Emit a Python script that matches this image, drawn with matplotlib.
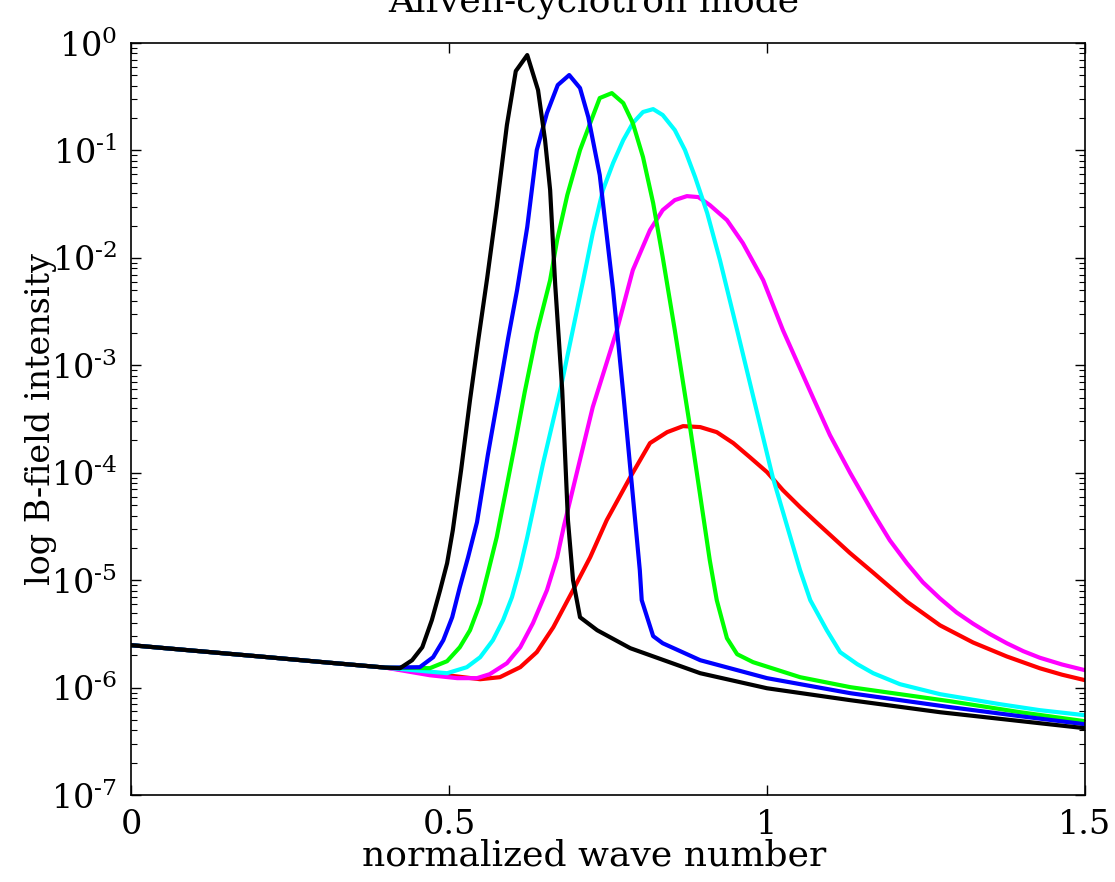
import numpy as np
import matplotlib.pyplot as plt

# shared low-k part of every curve (log10 of intensity)
BASE_K = [0.0, 0.1, 0.2, 0.3, 0.4]
BASE_LOG = [-5.605, -5.657, -5.709, -5.762, -5.814]

RED_K = [0.497, 0.549, 0.580, 0.612, 0.638, 0.664, 0.695, 0.722, 0.748, 0.785,
         0.816, 0.843, 0.868, 0.895, 0.921, 0.947, 0.973, 1.000, 1.025, 1.052,
         1.079, 1.130, 1.167, 1.220, 1.272, 1.324, 1.377, 1.429, 1.464, 1.500]
RED_LOG = [-5.885, -5.922, -5.903, -5.810, -5.670, -5.438, -5.093, -4.786, -4.441, -4.041,
           -3.724, -3.622, -3.566, -3.575, -3.622, -3.724, -3.855, -3.994, -4.162, -4.320,
           -4.469, -4.745, -4.930, -5.200, -5.420, -5.580, -5.710, -5.820, -5.880, -5.931]

MAGENTA_K = [0.470, 0.513, 0.544, 0.564, 0.591, 0.612, 0.632, 0.654, 0.670, 0.681,
             0.726, 0.764, 0.789, 0.816, 0.836, 0.855, 0.874, 0.892, 0.910, 0.937,
             0.962, 0.994, 1.025, 1.072, 1.099, 1.131, 1.167, 1.193, 1.220, 1.245,
             1.272, 1.298, 1.324, 1.351, 1.377, 1.403, 1.429, 1.464, 1.500]
MAGENTA_LOG = [-5.885, -5.912, -5.912, -5.875, -5.773, -5.624, -5.400, -5.093, -4.786, -4.488,
               -3.389, -2.672, -2.114, -1.741, -1.555, -1.462, -1.425, -1.434, -1.508, -1.648,
               -1.862, -2.207, -2.672, -3.296, -3.650, -4.004, -4.376, -4.628, -4.842, -5.019,
               -5.170, -5.300, -5.405, -5.503, -5.587, -5.661, -5.722, -5.785, -5.838]

CYAN_K = [0.497, 0.528, 0.549, 0.569, 0.585, 0.599, 0.612, 0.623, 0.648, 0.675,
          0.711, 0.726, 0.742, 0.758, 0.774, 0.789, 0.805, 0.821, 0.836, 0.855,
          0.871, 0.887, 0.906, 0.926, 0.953, 1.009, 1.052, 1.068, 1.094, 1.115,
          1.142, 1.167, 1.209, 1.272, 1.366, 1.429, 1.500]
CYAN_LOG = [-5.866, -5.810, -5.717, -5.559, -5.372, -5.158, -4.879, -4.600, -3.910, -3.231,
            -2.207, -1.769, -1.369, -1.117, -0.903, -0.745, -0.642, -0.615, -0.670, -0.810,
            -0.996, -1.248, -1.583, -2.020, -2.672, -4.041, -4.907, -5.186, -5.466, -5.670,
            -5.782, -5.866, -5.968, -6.061, -6.154, -6.210, -6.257]

GREEN_K = [0.470, 0.497, 0.517, 0.533, 0.549, 0.561, 0.575, 0.588, 0.604, 0.619,
           0.638, 0.659, 0.670, 0.686, 0.706, 0.722, 0.737, 0.756, 0.774, 0.789,
           0.805, 0.821, 0.836, 0.855, 0.879, 0.910, 0.921, 0.937, 0.953, 0.978,
           1.052, 1.131, 1.288, 1.398, 1.500]
GREEN_LOG = [-5.819, -5.754, -5.624, -5.466, -5.214, -4.935, -4.600, -4.209, -3.724, -3.250,
             -2.700, -2.207, -1.834, -1.415, -0.996, -0.745, -0.512, -0.466, -0.559, -0.745,
             -1.061, -1.490, -1.993, -2.672, -3.575, -4.814, -5.186, -5.540, -5.689, -5.763,
             -5.903, -5.996, -6.127, -6.229, -6.313]

BLUE_K = [0.454, 0.475, 0.491, 0.505, 0.517, 0.530, 0.544, 0.561, 0.579, 0.593,
          0.607, 0.623, 0.638, 0.654, 0.671, 0.689, 0.706, 0.719, 0.737, 0.758,
          0.775, 0.800, 0.803, 0.821, 0.836, 0.895, 1.000, 1.131, 1.288, 1.398,
          1.500]
BLUE_LOG = [-5.810, -5.717, -5.559, -5.345, -5.065, -4.786, -4.460, -3.836, -3.231, -2.747,
            -2.300, -1.713, -0.996, -0.652, -0.391, -0.298, -0.419, -0.689, -1.229, -2.300,
            -3.324, -4.907, -5.186, -5.521, -5.587, -5.745, -5.912, -6.052, -6.182, -6.266,
            -6.341]

BLACK_K = [0.423, 0.442, 0.458, 0.473, 0.486, 0.497, 0.506, 0.519, 0.533, 0.546,
           0.560, 0.575, 0.591, 0.605, 0.623, 0.640, 0.651, 0.659, 0.667, 0.678,
           0.687, 0.695, 0.706, 0.733, 0.785, 0.895, 1.000, 1.131, 1.272, 1.500]
BLACK_LOG = [-5.819, -5.745, -5.624, -5.372, -5.093, -4.842, -4.534, -3.976, -3.324, -2.765,
             -2.188, -1.527, -0.764, -0.261, -0.112, -0.438, -0.903, -1.369, -2.253, -3.231,
             -4.441, -5.000, -5.345, -5.466, -5.633, -5.866, -6.006, -6.117, -6.229, -6.378]

CURVES = [
    (RED_K, RED_LOG, '#ff0000'),
    (MAGENTA_K, MAGENTA_LOG, '#ff00ff'),
    (CYAN_K, CYAN_LOG, '#00ffff'),
    (GREEN_K, GREEN_LOG, '#00ff00'),
    (BLUE_K, BLUE_LOG, '#0000ff'),
    (BLACK_K, BLACK_LOG, '#000000'),
]

XTICKS = [0, 0.5, 1, 1.5]
XTICK_LABELS = ['0', '0.5', '1', '1.5']
YTICK_EXP = [0, -1, -2, -3, -4, -5, -6, -7]

plt.rcParams['font.family'] = ['DejaVu Serif']
plt.rcParams['mathtext.fontset'] = 'dejavuserif'
plt.rcParams['axes.unicode_minus'] = False

fig = plt.figure(figsize=(11.15, 8.82), dpi=100)
ax = fig.add_axes([0.1175, 0.0986, 0.8556, 0.8526])

for k, lg, col in CURVES:
    kk = np.array(BASE_K + k)
    yy = 10.0 ** np.array(BASE_LOG + lg)
    ax.plot(kk, yy, color=col, lw=3)

ax.set_yscale('log')
ax.set_xlim(0, 1.5)
ax.set_ylim(1e-7, 1e0)

ax.set_xticks(XTICKS)
ax.set_xticklabels(XTICK_LABELS)
ax.set_yticks([10.0 ** e for e in YTICK_EXP])
ax.set_yticklabels([r'$\mathdefault{10^{\text{%d}}}$' % e for e in YTICK_EXP])

ax.tick_params(which='both', direction='in', top=True, right=True, labelsize=24)
ax.tick_params(which='major', length=7, width=1, pad=10)
ax.tick_params(which='minor', length=4, width=0.8)
ax.tick_params(axis='x', which='minor', bottom=False, top=False)
for s in ax.spines.values():
    s.set_linewidth(1.2)

ax.set_xlabel('normalized wave number', fontsize=26)
ax.xaxis.set_label_coords(0.4853, -0.058)
ax.set_ylabel('log B-field intensity', fontsize=24)
ax.yaxis.set_label_coords(-0.078, 0.5)

ax.text(0.4853, 1.0426, 'Alfven-cyclotron mode', transform=ax.transAxes,
        ha='center', va='baseline', fontsize=26)

fig.savefig('out.png', dpi=100)
